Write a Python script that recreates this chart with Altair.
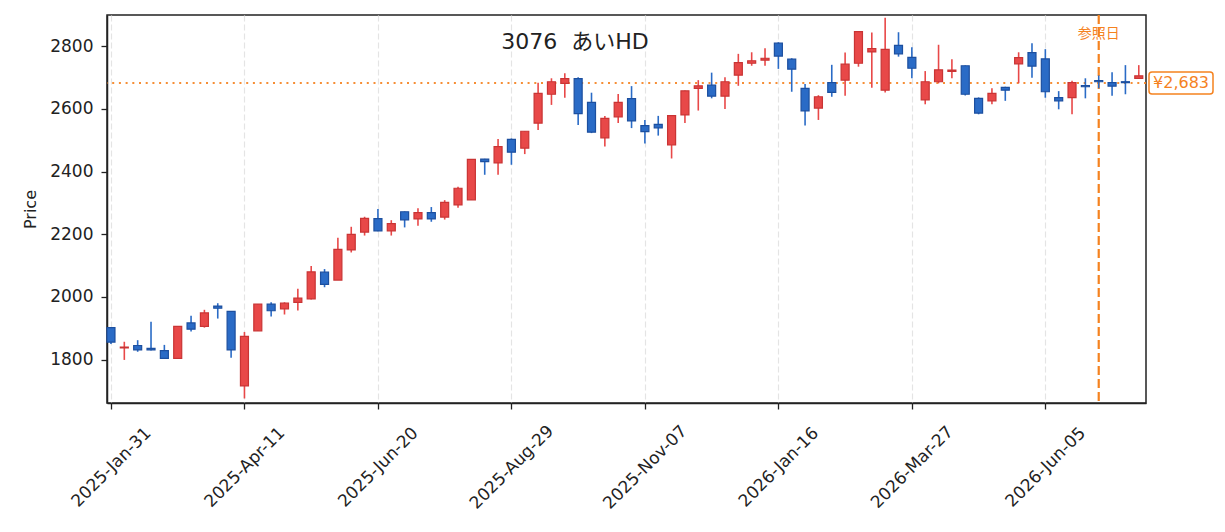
import altair as alt
import pandas as pd

# weekly candles (Fridays)
dates = pd.date_range("2025-01-31", periods=78, freq="7D").strftime("%Y-%m-%d").tolist()

opens = [1902, 1837, 1845, 1836, 1829, 1804, 1917, 1906, 1971, 1954,
         1716, 1892, 1977, 1962, 1983, 1994, 2079, 2054, 2150, 2207,
         2250, 2211, 2272, 2249, 2269, 2255, 2294, 2310, 2440, 2428,
         2503, 2475, 2555, 2647, 2682, 2697, 2621, 2508, 2575, 2633,
         2547, 2551, 2485, 2581, 2666, 2676, 2641, 2708, 2746, 2756,
         2810, 2759, 2666, 2603, 2684, 2692, 2746, 2782, 2660, 2803,
         2765, 2629, 2687, 2720, 2738, 2634, 2626, 2669, 2744, 2780,
         2760, 2636, 2636, 2675, 2691, 2684, 2687, 2698]
highs = [1904, 1857, 1862, 1921, 1847, 1906, 1940, 1959, 1980, 1955,
         1888, 1977, 1983, 1983, 2026, 2099, 2089, 2189, 2224, 2256,
         2281, 2245, 2273, 2283, 2287, 2309, 2352, 2439, 2441, 2504,
         2506, 2529, 2684, 2698, 2714, 2701, 2652, 2578, 2648, 2673,
         2565, 2578, 2580, 2659, 2692, 2716, 2701, 2776, 2781, 2794,
         2813, 2762, 2680, 2644, 2741, 2780, 2848, 2844, 2891, 2845,
         2797, 2721, 2805, 2759, 2739, 2637, 2666, 2671, 2781, 2810,
         2791, 2657, 2690, 2698, 2707, 2717, 2740, 2740]
lows = [1850, 1799, 1825, 1829, 1804, 1804, 1890, 1902, 1931, 1806,
        1676, 1892, 1938, 1944, 1957, 1992, 2031, 2054, 2142, 2196,
        2210, 2196, 2222, 2227, 2240, 2247, 2285, 2310, 2390, 2390,
        2422, 2456, 2533, 2613, 2636, 2549, 2523, 2480, 2555, 2539,
        2490, 2515, 2442, 2555, 2595, 2634, 2600, 2674, 2738, 2738,
        2728, 2655, 2547, 2565, 2639, 2642, 2735, 2668, 2653, 2767,
        2698, 2615, 2682, 2698, 2643, 2583, 2615, 2626, 2682, 2700,
        2636, 2599, 2583, 2634, 2666, 2642, 2647, 2698]
closes = [1856, 1840, 1831, 1831, 1804, 1906, 1897, 1949, 1964, 1831,
          1874, 1977, 1956, 1980, 1996, 2080, 2040, 2152, 2200, 2251,
          2211, 2234, 2246, 2269, 2249, 2302, 2347, 2439, 2432, 2480,
          2462, 2529, 2650, 2687, 2697, 2585, 2526, 2570, 2621, 2562,
          2528, 2540, 2579, 2658, 2674, 2641, 2687, 2748, 2754, 2762,
          2769, 2727, 2594, 2639, 2653, 2743, 2847, 2793, 2790, 2776,
          2730, 2687, 2725, 2724, 2647, 2587, 2650, 2660, 2764, 2737,
          2655, 2626, 2684, 2671, 2687, 2673, 2684, 2706]

ref_date = ["2026-07-03"]
ref_price = [2683]
ref_label = ["¥2,683"]
title_text = ["3076 \u00a0あいHD"]
y_ticks = [1800, 2000, 2200, 2400, 2600, 2800]
x_tick_dates = [(2025, 1, 31), (2025, 4, 11), (2025, 6, 20), (2025, 8, 29),
                (2025, 11, 7), (2026, 1, 16), (2026, 3, 27), (2026, 6, 5)]

df = pd.DataFrame({"date": dates, "open": opens, "high": highs, "low": lows, "close": closes})
df["dir"] = ["up" if c >= o else "down" for o, c in zip(opens, closes)]

FONT = "DejaVu Sans, Noto Sans CJK JP"
RED, RED_D = "#e84848", "#c93434"
BLUE, BLUE_D = "#2a6bc6", "#1c4f9f"
ORANGE = "#f5821f"

xscale = alt.Scale(type="utc", padding=0,
                   domain=[alt.DateTime(year=2025, month=1, date=28, hours=22, utc=True),
                           alt.DateTime(year=2026, month=7, date=27, hours=19, utc=True)])
yscale = alt.Scale(domain=[1661.5, 2900], nice=False, zero=False, padding=0)

xaxis = alt.Axis(values=[alt.DateTime(year=y, month=m, date=d, utc=True) for y, m, d in x_tick_dates],
                 format="%Y-%b-%d", labelAngle=-45, labelAlign="center",
                 labelBaseline="middle", labelPadding=58, labelFlush=False, title=None)
yaxis = alt.Axis(values=y_ticks, format="d", title="Price", titlePadding=11, titleFontSize=16,
                 titleFontWeight="normal", titleFont=FONT, titleColor="#222")

color_enc = alt.Color("dir:N", scale=alt.Scale(domain=["up", "down"], range=[RED, BLUE]), legend=None)
stroke_enc = alt.Stroke("dir:N", scale=alt.Scale(domain=["up", "down"], range=[RED_D, BLUE_D]), legend=None)

base = alt.Chart(df)
wicks = base.mark_rule(strokeWidth=1.6).encode(
    x=alt.X("date:T", scale=xscale, axis=xaxis),
    y=alt.Y("low:Q", scale=yscale, axis=yaxis, title="Price"),
    y2="high:Q",
    color=color_enc,
)
bodies = base.mark_bar(size=8, strokeWidth=1.2).encode(
    x=alt.X("date:T", scale=xscale, axis=xaxis),
    y=alt.Y("open:Q", scale=yscale, axis=yaxis, title="Price"),
    y2="close:Q",
    color=color_enc,
    stroke=stroke_enc,
)

ref_df = pd.DataFrame({"date": ref_date})
vline = alt.Chart(ref_df).mark_rule(color=ORANGE, strokeWidth=2.2, strokeDash=[9, 4]).encode(
    x=alt.X("date:T", scale=xscale, axis=xaxis))
vtext = alt.Chart(ref_df).mark_text(text="参照日", color=ORANGE, fontSize=14, font="Noto Sans CJK JP",
                                    baseline="middle").encode(
    x=alt.X("date:T", scale=xscale, axis=xaxis), y=alt.value(19))

hline = alt.Chart(ref_df).mark_rule(color=ORANGE, strokeWidth=2, strokeDash=[2, 4.7], opacity=0.9).encode(
    y=alt.datum(ref_price[0]))

box = alt.Chart(ref_df).mark_rect(fill="white", stroke=ORANGE, strokeWidth=1.5, cornerRadius=3,
                                  yOffset=-11, y2Offset=11).encode(
    x=alt.value(1042), x2=alt.value(1106), y=alt.datum(ref_price[0]), y2=alt.datum(ref_price[0]))
box_text = alt.Chart(pd.DataFrame({"t": ref_label})).mark_text(
    color=ORANGE, fontSize=16, font=FONT, baseline="middle", align="center").encode(
    text="t:N", x=alt.value(1074), y=alt.datum(ref_price[0]))

title = alt.Chart(pd.DataFrame({"t": title_text})).mark_text(
    fontSize=22, font=FONT, color="#222", baseline="alphabetic", align="center").encode(
    text="t:N", x=alt.value(468), y=alt.value(33.5))

chart = alt.layer(hline, vline, wicks, bodies, vtext, box, box_text, title).properties(
    width=1039, height=388,
    autosize=alt.AutoSizeParams(type="none"),
    padding={"left": 99, "top": 7, "right": 70, "bottom": 121},
    background="white",
).configure_view(
    stroke="#222", strokeWidth=1.5
).configure_axis(
    labelFont=FONT, labelFontSize=17, labelColor="#222",
    domainColor="#222", domainWidth=1.5, tickColor="#222", tickWidth=1.3, tickSize=6,
    labelPadding=8,
    gridColor="#e4e4e4", gridDash=[6, 3], gridWidth=1.2,
).configure_axisX(labelPadding=58)

chart.save("out.html", embed_options={"renderer": "svg", "actions": False})
